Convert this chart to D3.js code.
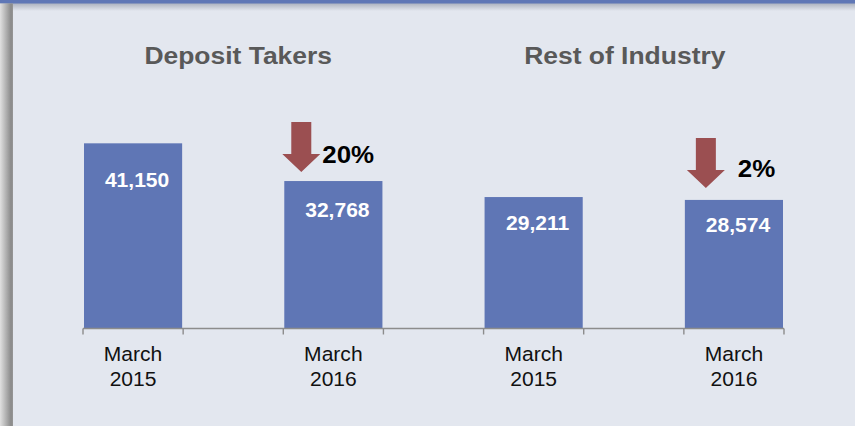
<!DOCTYPE html>
<html><head><meta charset="utf-8">
<script src="https://cdn.jsdelivr.net/npm/d3@7"></script>
<style>html,body{margin:0;padding:0;background:#e3e7ef;overflow:hidden}</style>
</head><body>
<svg id="chart" width="855" height="426"></svg>
<script>
// ---- data ----
const slots = [0, 1, 2, 3, 4, 5, 6];
const labelLine1 = ["March", "", "March", "", "March", "", "March"];
const labelLine2 = ["2015", "", "2016", "", "2015", "", "2016"];
const values = [41150, null, 32768, null, 29211, null, 28574];
const valueLabels = ["41,150", "", "32,768", "", "29,211", "", "28,574"];
const groupTitles = ["Deposit Takers", "Rest of Industry"];
const groupSlots = [[0, 2], [4, 6]];
const changeSlots = [2, 6];
const changeLabels = ["20%", "2%"];

// ---- layout ----
const W = 855, H = 426;
const svg = d3.select("#chart");
const BG = "#e3e7ef", BAR = "#5f76b5", ARROW = "#9b4f51";
const FONT = "Liberation Sans, Arial, Helvetica, sans-serif";
const SX = 1.08; // horizontal text stretch

const defs = svg.append("defs");
const lg = defs.append("linearGradient").attr("id", "leftEdge").attr("x1", 0).attr("x2", 1).attr("y1", 0).attr("y2", 0);
lg.append("stop").attr("offset", "0%").attr("stop-color", "#e0e0e0");
lg.append("stop").attr("offset", "85%").attr("stop-color", "#8a8a8a");
lg.append("stop").attr("offset", "100%").attr("stop-color", "#979797");
const tg = defs.append("linearGradient").attr("id", "topShadow").attr("x1", 0).attr("x2", 0).attr("y1", 0).attr("y2", 1);
tg.append("stop").attr("offset", "0%").attr("stop-color", "#aab0bd");
tg.append("stop").attr("offset", "100%").attr("stop-color", BG);

svg.append("rect").attr("width", W).attr("height", H).attr("fill", BG);
svg.append("rect").attr("x", 0).attr("y", 3).attr("width", W).attr("height", 8).attr("fill", "url(#topShadow)");
svg.append("rect").attr("x", 0).attr("y", 0).attr("width", W).attr("height", 3.5).attr("fill", "#5f77b6");
svg.append("rect").attr("x", 0).attr("y", 3.5).attr("width", 13).attr("height", H).attr("fill", "url(#leftEdge)");

const x = d3.scaleBand().domain(slots).range([83, 784]).padding(0);
const y = d3.scaleLinear().domain([0, 50000]).range([328.5, 103.5]);
const bw = x.bandwidth();

function stretchedText(sel, tx, ty) {
  return sel.attr("transform", `translate(${tx},${ty}) scale(${SX},1)`);
}

// bars
const barData = slots.filter(i => values[i] != null);
svg.append("g").selectAll("rect").data(barData).join("rect")
  .attr("x", i => x(i) + 1)
  .attr("width", bw - 2)
  .attr("y", i => y(values[i]))
  .attr("height", i => y(0) - y(values[i]))
  .attr("fill", BAR);

// value labels
svg.append("g").selectAll("text").data(barData).join("text")
  .each(function(i) { stretchedText(d3.select(this), x(i) + bw / 2 + 4, y(values[i] * 0.8)); })
  .attr("text-anchor", "middle").attr("dominant-baseline", "central")
  .attr("font-family", FONT).attr("font-weight", "bold").attr("font-size", 19.5)
  .attr("fill", "#ffffff").text(i => valueLabels[i]);

// axis line and ticks
const axisY = y(0);
const tickXs = slots.map(i => x(i)).concat([x(slots[slots.length - 1]) + bw]);
svg.append("line").attr("x1", tickXs[0]).attr("x2", tickXs[tickXs.length - 1])
  .attr("y1", axisY).attr("y2", axisY).attr("stroke", "#8c8c8c").attr("stroke-width", 1.6);
svg.append("g").selectAll("line").data(tickXs).join("line")
  .attr("x1", d => d).attr("x2", d => d).attr("y1", axisY).attr("y2", axisY + 6)
  .attr("stroke", "#8c8c8c").attr("stroke-width", 1.4);

// category labels
const lab = svg.append("g").selectAll("g").data(barData).join("g");
lab.append("text").each(function(i) { stretchedText(d3.select(this), x(i) + bw / 2, 354); })
  .attr("text-anchor", "middle").attr("dominant-baseline", "central")
  .attr("font-family", FONT).attr("font-size", 19.5).attr("fill", "#111").text(i => labelLine1[i]);
lab.append("text").each(function(i) { stretchedText(d3.select(this), x(i) + bw / 2, 379); })
  .attr("text-anchor", "middle").attr("dominant-baseline", "central")
  .attr("font-family", FONT).attr("font-size", 19.5).attr("fill", "#111").text(i => labelLine2[i]);

// group titles
const titleDx = [5, -9];
groupTitles.forEach((t, k) => {
  const [a, b] = groupSlots[k];
  const cx = (x(a) + x(b) + bw) / 2 + titleDx[k];
  svg.append("text").call(s => stretchedText(s, cx, 55))
    .attr("text-anchor", "middle").attr("dominant-baseline", "central")
    .attr("font-family", FONT).attr("font-weight", "bold").attr("font-size", 24.5)
    .attr("fill", "#595959").text(t);
});

// change arrows
const arrowLayout = [
  { dx: 18, gap: 9, textDx: 20, textDy: -27 },
  { dx: 22, gap: 12, textDx: 31, textDy: -32 }
];
changeSlots.forEach((i, k) => {
  const L = arrowLayout[k];
  const cx = x(i) + L.dx;
  const tip = y(values[i]) - L.gap;
  const top = tip - 50, headY = tip - 18, sw = 10, hw = 19;
  const p = d3.path();
  p.moveTo(cx - sw, top); p.lineTo(cx + sw, top); p.lineTo(cx + sw, headY);
  p.lineTo(cx + hw, headY); p.lineTo(cx, tip); p.lineTo(cx - hw, headY);
  p.lineTo(cx - sw, headY); p.closePath();
  svg.append("path").attr("d", p.toString()).attr("fill", ARROW);
  svg.append("text").call(s => stretchedText(s, cx + hw + L.textDx - 18, y(values[i]) + L.textDy))
    .attr("dominant-baseline", "central")
    .attr("font-family", FONT).attr("font-weight", "bold").attr("font-size", 24)
    .attr("fill", "#000").text(changeLabels[k]);
});
</script>
</body></html>
